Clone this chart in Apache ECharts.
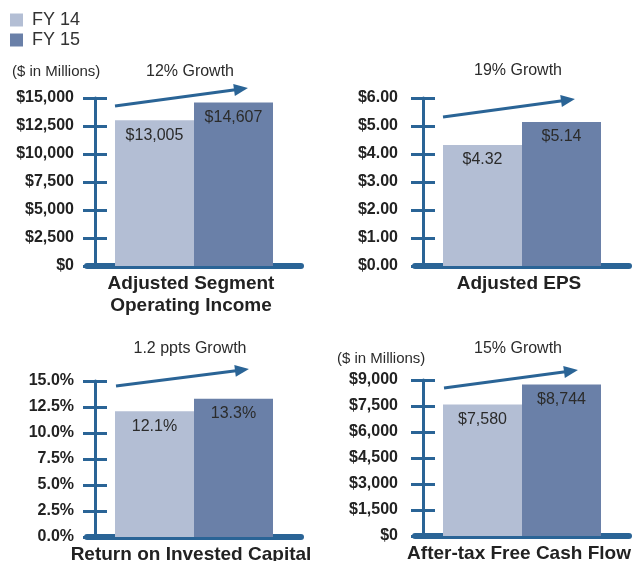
<!DOCTYPE html>
<html>
<head>
    <meta charset="UTF-8">
    <title>FY14 vs FY15</title>
    <style type="text/css">
        html, body { margin: 0; padding: 0; background: #fff; }
        #main { width: 632px; height: 561px; }
    </style>
</head>
<body>
    <div id="main"></div>
<script type="text/javascript" src="https://cdn.jsdelivr.net/npm/echarts@6/dist/echarts.min.js"></script>
<script type="text/javascript">
// data
var seriesNames = ['FY 14', 'FY 15'];
var categories = ['Adjusted Segment\nOperating Income', 'Adjusted EPS', 'Return on Invested Capital', 'After-tax Free Cash Flow'];
var fy14 = [13005, 4.32, 12.1, 7580];
var fy15 = [14607, 5.14, 13.3, 8744];
var growthText = ['12% Growth', '19% Growth', '1.2 ppts Growth', '15% Growth'];
var unitText = ['($ in Millions)', '', '', '($ in Millions)'];
var yMax = [15000, 6, 15, 9000];
var yStep = [2500, 1, 2.5, 1500];

var FONT = 'Liberation Sans, Arial, Helvetica, sans-serif';
var AXIS = '#2a6496';
var C14 = '#b3bed4', C15 = '#6a80a8';
var HEAD = 'path://M5,0L10,12L0,12Z';

function money(v) { return '$' + Math.round(v).toLocaleString('en-US'); }
var fmt = [
    money,
    function (v) { return '$' + v.toFixed(2); },
    function (v) { return v.toFixed(1) + '%'; },
    money
];

// panel layout: grid box, axis x, label margin, arrow start/end (head centre), text positions
var panels = [
    { left: 87,  top: 98,  height: 168, axisX: 95,  margin: 21, arrow: [[115, 106], [241, 89]],  growthY: 63,  unitX: 12,  unitY: 64,  textX: 190 },
    { left: 415, top: 98,  height: 168, axisX: 423, margin: 25, arrow: [[443, 117], [568, 100]], growthY: 62,  unitX: 0,   unitY: 0,   textX: 518 },
    { left: 87,  top: 381, height: 156, axisX: 95,  margin: 21, arrow: [[116, 386], [242, 370]], growthY: 340, unitX: 0,   unitY: 0,   textX: 190 },
    { left: 415, top: 380, height: 156, axisX: 423, margin: 25, arrow: [[444, 388], [571, 371]], growthY: 340, unitX: 337, unitY: 351, textX: 518 }
];

var chart = echarts.init(document.getElementById('main'));

var grid = [], xAxis = [], yAxis = [], series = [], title = [];

panels.forEach(function (p, i) {
    grid.push({ left: p.left, top: p.top, width: 214, height: p.height, outerBoundsMode: 'none', containLabel: false });

    xAxis.push({
        type: 'category', gridIndex: i, data: [categories[i]],
        axisLine: { lineStyle: { color: AXIS, width: 6 } },
        axisTick: { show: false },
        axisLabel: {
            margin: 7, fontFamily: FONT, fontSize: 19, fontWeight: 'bold',
            color: '#222', lineHeight: 22, padding: [0, 6, 0, 0]
        }
    });

    var common = {
        type: 'value', gridIndex: i, position: 'left', offset: p.left - p.axisX,
        min: 0, max: yMax[i], interval: yStep[i],
        splitLine: { show: false }
    };
    // outer ticks, line and labels
    yAxis.push(Object.assign({}, common, {
        axisLine: { show: true, lineStyle: { color: AXIS, width: 3 } },
        axisTick: { show: true, inside: false, length: 12, lineStyle: { color: AXIS, width: 3 } },
        axisLabel: {
            margin: p.margin, fontFamily: FONT, fontSize: 16, fontWeight: 'bold', color: '#222',
            formatter: fmt[i]
        }
    }));
    // inner ticks so that each tick crosses the axis
    yAxis.push(Object.assign({}, common, {
        axisLine: { show: false },
        axisTick: { show: true, inside: true, length: 12, lineStyle: { color: AXIS, width: 3 } },
        axisLabel: { show: false }
    }));

    var label = {
        show: true, position: 'insideTop', distance: 7,
        fontFamily: FONT, fontSize: 16, color: '#2b2b2b',
        formatter: function (d) { return fmt[i](d.value); }
    };
    series.push({
        name: seriesNames[0], type: 'bar', xAxisIndex: i, yAxisIndex: i * 2,
        data: [fy14[i]], barWidth: 79, barGap: 0,
        itemStyle: { color: C14 }, label: label
    });
    series.push({
        name: seriesNames[1], type: 'bar', xAxisIndex: i, yAxisIndex: i * 2,
        data: [fy15[i]], barWidth: 79, barGap: 0,
        itemStyle: { color: C15 }, label: label,
        markLine: {
            silent: true, animation: false,
            symbol: ['none', HEAD], symbolSize: [12, 14],
            label: { show: false },
            lineStyle: { color: AXIS, width: 3, type: 'solid' },
            data: [[{ x: p.arrow[0][0], y: p.arrow[0][1] }, { x: p.arrow[1][0], y: p.arrow[1][1] }]]
        }
    });

    title.push({
        text: growthText[i], left: p.textX, top: p.growthY, textAlign: 'center', padding: 0,
        textStyle: { fontFamily: FONT, fontSize: 16, fontWeight: 'normal', color: '#2b2b2b', lineHeight: 18 }
    });
    if (unitText[i]) {
        title.push({
            text: unitText[i], left: p.unitX, top: p.unitY, padding: 0,
            textStyle: { fontFamily: FONT, fontSize: 15, fontWeight: 'normal', color: '#2b2b2b', lineHeight: 16 }
        });
    }
});

chart.setOption({
    animation: false,
    title: title,
    legend: {
        data: seriesNames, orient: 'vertical', left: 10, top: 10,
        itemWidth: 13, itemHeight: 13, itemGap: 0, icon: 'rect', selectedMode: false,
        padding: 0,
        textStyle: { fontFamily: FONT, fontSize: 18, color: '#333', lineHeight: 20, padding: [0, 0, 0, 4] }
    },
    grid: grid,
    xAxis: xAxis,
    yAxis: yAxis,
    series: series
});
</script>
</body>
</html>
